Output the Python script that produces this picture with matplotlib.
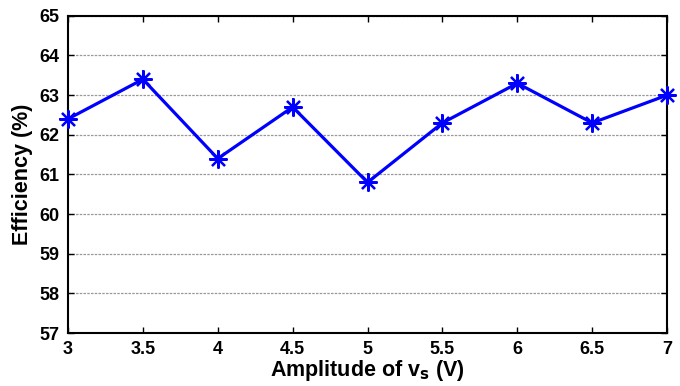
import matplotlib
matplotlib.use('Agg')
import matplotlib.pyplot as plt
import numpy as np

# amplitude of vs (V) and measured efficiency (%)
amplitude = [3, 3.5, 4, 4.5, 5, 5.5, 6, 6.5, 7]
efficiency = [62.4, 63.4, 61.4, 62.7, 60.8, 62.3, 63.3, 62.3, 63.0]

x_ticks = [3, 3.5, 4, 4.5, 5, 5.5, 6, 6.5, 7]
x_labels = ['3', '3.5', '4', '4.5', '5', '5.5', '6', '6.5', '7']
y_ticks = [57, 58, 59, 60, 61, 62, 63, 64, 65]

plt.rcParams['font.family'] = ['Liberation Sans', 'DejaVu Sans']
plt.rcParams['font.weight'] = 'bold'
plt.rcParams['mathtext.default'] = 'bf'

fig = plt.figure(figsize=(6.8, 3.86), dpi=100)
ax = fig.add_axes([0.1, 0.137, 0.881, 0.822])

# matlab-like asterisk: 8 spokes, with a '+' on top
ax.plot(amplitude, efficiency, color='#0000ff', linewidth=2.3,
        marker=(8, 2, 0), markersize=13, markeredgewidth=1.6,
        zorder=3, clip_on=False)
ax.plot(amplitude, efficiency, linestyle='none', color='#0000ff',
        marker='+', markersize=13, markeredgewidth=1.2, zorder=3, clip_on=False)

ax.set_xlim(3, 7)
ax.set_ylim(57, 65)
ax.set_xticks(x_ticks)
ax.set_xticklabels(x_labels)
ax.set_yticks(y_ticks)

ax.yaxis.grid(True, color='#999999', linestyle=(0, (2, 1)), linewidth=0.9)
ax.set_axisbelow(True)

for s in ax.spines.values():
    s.set_linewidth(1.5)
    s.set_color('black')

ax.tick_params(direction='in', top=True, right=True, length=4, width=1,
               labelsize=13, pad=6, colors='black')
for lbl in ax.get_xticklabels() + ax.get_yticklabels():
    lbl.set_fontweight('bold')

ax.set_xlabel('Amplitude of v$_s$ (V)', fontsize=15.5, fontweight='bold', labelpad=0)
ax.set_ylabel('Efficiency (%)', fontsize=15.5, fontweight='bold', labelpad=5)

fig.savefig('out.png', dpi=100)
